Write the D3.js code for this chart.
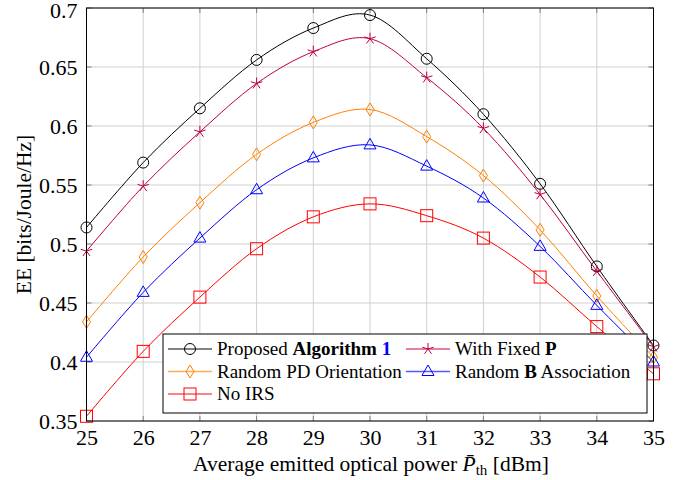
<!DOCTYPE html>
<html>
<head>
<meta charset="utf-8">
<script src="https://cdn.jsdelivr.net/npm/d3@7"></script>
<style>
  body { margin: 0; background: #fff; }
  text { font-family: "Liberation Serif", "Times New Roman", serif; fill: #000; }
</style>
</head>
<body>
<div id="chart"></div>
<script>
// power levels (dBm)
const power = [25, 26, 27, 28, 29, 30, 31, 32, 33, 34, 35];

// EE values per scheme
const proposed = [0.514, 0.569, 0.615, 0.656, 0.683, 0.694, 0.657, 0.610, 0.551, 0.481, 0.414];
const fixedP   = [0.494, 0.549, 0.595, 0.636, 0.663, 0.674, 0.641, 0.598, 0.542, 0.477, 0.413];
const randomPD = [0.434, 0.489, 0.535, 0.576, 0.603, 0.614, 0.591, 0.558, 0.512, 0.456, 0.404];
const randomB  = [0.404, 0.459, 0.505, 0.546, 0.573, 0.584, 0.566, 0.539, 0.498, 0.448, 0.400];
const noIRS    = [0.354, 0.409, 0.455, 0.496, 0.523, 0.534, 0.524, 0.505, 0.472, 0.430, 0.390];

const yTicks = [0.35, 0.4, 0.45, 0.5, 0.55, 0.6, 0.65, 0.7];

const series = [
  { key: "proposed", values: proposed, color: "#000000", marker: "circle" },
  { key: "fixedP",   values: fixedP,   color: "#bf0040", marker: "star" },
  { key: "randomPD", values: randomPD, color: "#ff8000", marker: "diamond" },
  { key: "randomB",  values: randomB,  color: "#0000ff", marker: "triangle" },
  { key: "noIRS",    values: noIRS,    color: "#ff0000", marker: "square" }
];

const W = 694, H = 480;
const margin = { top: 8, right: 40.5, bottom: 59, left: 86.5 };
const width = W - margin.left - margin.right;
const height = H - margin.top - margin.bottom;

const svg = d3.select("#chart").append("svg")
  .attr("width", W).attr("height", H);

const g = svg.append("g")
  .attr("transform", `translate(${margin.left},${margin.top})`);

const x = d3.scaleLinear().domain([25, 35]).range([0, width]);
const y = d3.scaleLinear().domain([0.35, 0.7]).range([height, 0]);

// grid
g.append("g").selectAll("line").data(power).join("line")
  .attr("x1", d => x(d)).attr("x2", d => x(d))
  .attr("y1", 0).attr("y2", height)
  .attr("stroke", "#d0d0d0").attr("stroke-width", 1);
g.append("g").selectAll("line").data(yTicks).join("line")
  .attr("y1", d => y(d)).attr("y2", d => y(d))
  .attr("x1", 0).attr("x2", width)
  .attr("stroke", "#d0d0d0").attr("stroke-width", 1);

// inward tick marks
const tickLen = 5;
const ticks = g.append("g").attr("stroke", "#808080").attr("stroke-width", 1);
power.forEach(p => {
  ticks.append("line").attr("x1", x(p)).attr("x2", x(p)).attr("y1", height).attr("y2", height - tickLen);
  ticks.append("line").attr("x1", x(p)).attr("x2", x(p)).attr("y1", 0).attr("y2", tickLen);
});
yTicks.forEach(v => {
  ticks.append("line").attr("y1", y(v)).attr("y2", y(v)).attr("x1", 0).attr("x2", tickLen);
  ticks.append("line").attr("y1", y(v)).attr("y2", y(v)).attr("x1", width).attr("x2", width - tickLen);
});

// axes via d3 (labels only, no domain/ticks)
const xAxis = g.append("g").attr("transform", `translate(0,${height})`)
  .call(d3.axisBottom(x).tickValues(power).tickFormat(d3.format("d")).tickSize(0).tickPadding(0));
xAxis.select(".domain").remove();
xAxis.selectAll("text").attr("font-size", 22).attr("dy", null).attr("y", 24)
  .style("font-family", "'Liberation Serif', serif");

const yAxis = g.append("g")
  .call(d3.axisLeft(y).tickValues(yTicks).tickFormat(d => String(+d.toFixed(2))).tickSize(0).tickPadding(0));
yAxis.select(".domain").remove();
yAxis.selectAll("text").attr("font-size", 22).attr("x", -9)
  .attr("dy", d => d === 0.7 ? "0.42em" : "0.32em")
  .style("font-family", "'Liberation Serif', serif");

// curves
const line = d3.line()
  .x((d, i) => x(power[i]))
  .y(d => y(d))
  .curve(d3.curveCardinal.tension(0));

const plot = g.append("g");
series.forEach(s => {
  plot.append("path")
    .attr("d", line(s.values))
    .attr("fill", "none")
    .attr("stroke", s.color)
    .attr("stroke-width", 1);
});

function drawMarker(sel, type, cx, cy, color) {
  const m = sel.append("g").attr("transform", `translate(${cx},${cy})`)
    .attr("fill", "none").attr("stroke", color).attr("stroke-width", 1);
  if (type === "circle") {
    m.append("circle").attr("r", 5.5);
  } else if (type === "square") {
    m.append("rect").attr("x", -6).attr("y", -6).attr("width", 12).attr("height", 12);
  } else if (type === "diamond") {
    m.append("path").attr("d", "M0,-6.5L4,0L0,6.5L-4,0Z");
  } else if (type === "triangle") {
    m.append("path").attr("d", "M0,-6.5L6,4L-6,4Z");
  } else if (type === "star") {
    for (let k = 0; k < 5; k++) {
      const a = -Math.PI / 2 + k * 2 * Math.PI / 5;
      m.append("line").attr("x1", 0).attr("y1", 0)
        .attr("x2", 6 * Math.cos(a)).attr("y2", 6 * Math.sin(a));
    }
  }
  return m;
}

series.forEach(s => {
  s.values.forEach((v, i) => drawMarker(plot, s.marker, x(power[i]), y(v), s.color));
});

// frame
g.append("rect").attr("width", width).attr("height", height)
  .attr("fill", "none").attr("stroke", "#000").attr("stroke-width", 1);

// legend
const lg = svg.append("g").attr("transform", "translate(163,334)");
lg.append("rect").attr("width", 484).attr("height", 79)
  .attr("fill", "#fff").attr("stroke", "#000").attr("stroke-width", 1);

const legendItems = [
  { s: series[0], col: 0, row: 0, parts: [["Proposed ", "normal", "#000"], ["Algorithm", "bold", "#000"], [" ", "normal", "#000"], ["1", "bold", "#0000ff"]] },
  { s: series[1], col: 1, row: 0, parts: [["With Fixed ", "normal", "#000"], ["P", "bold", "#000"]] },
  { s: series[2], col: 0, row: 1, parts: [["Random PD Orientation", "normal", "#000"]] },
  { s: series[3], col: 1, row: 1, parts: [["Random ", "normal", "#000"], ["B", "bold", "#000"], [" Association", "normal", "#000"]] },
  { s: series[4], col: 0, row: 2, parts: [["No IRS", "normal", "#000"]] }
];
const colX = [5, 243];
const rowY = [15, 37.5, 60];
legendItems.forEach(it => {
  const lx = colX[it.col], ly = rowY[it.row];
  lg.append("line").attr("x1", lx).attr("x2", lx + 44).attr("y1", ly).attr("y2", ly)
    .attr("stroke", it.s.color).attr("stroke-width", 1.5).attr("opacity", 0.65);
  drawMarker(lg, it.s.marker, lx + 22, ly, it.s.color);
  const t = lg.append("text").attr("x", lx + 49).attr("y", ly + 6).attr("font-size", 19);
  it.parts.forEach(p => t.append("tspan").attr("font-weight", p[1]).style("fill", p[2]).text(p[0]));
});

// axis titles
const xl = svg.append("text")
  .attr("x", margin.left + width / 2 + 1).attr("y", 471)
  .attr("text-anchor", "middle").attr("font-size", 21.5);
xl.append("tspan").text("Average emitted optical power ");
xl.append("tspan").attr("font-style", "italic").text("P\u0304");
xl.append("tspan").attr("font-size", 15).attr("dy", 4).text("th");
xl.append("tspan").attr("dy", -4).text(" [dBm]");

svg.append("text")
  .attr("transform", `translate(31,${margin.top + height / 2}) rotate(-90)`)
  .attr("text-anchor", "middle").attr("font-size", 21.5)
  .text("EE [bits/Joule/Hz]");
</script>
</body>
</html>
